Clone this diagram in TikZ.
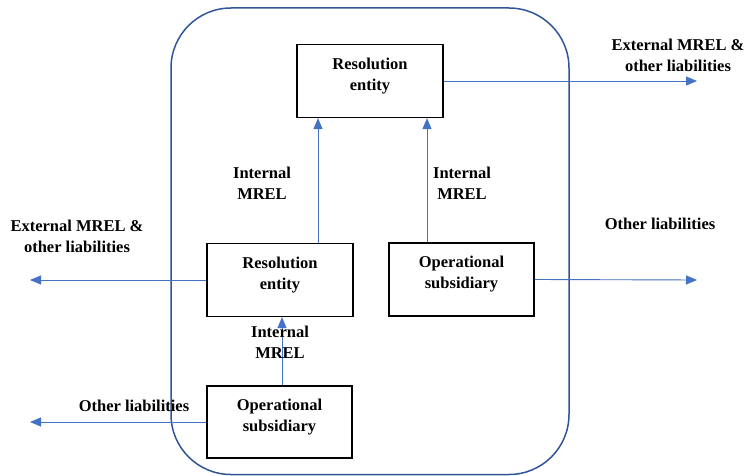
\documentclass[tikz,border=0pt]{standalone}
\usepackage{fontspec}
\setmainfont{Liberation Serif}
\usetikzlibrary{arrows.meta}
\definecolor{frameblue}{RGB}{47,85,151}
\definecolor{arrowblue}{RGB}{68,114,196}

\begin{document}
\begin{tikzpicture}[x=1pt,y=1pt,yscale=-1,xscale=1,
  entity/.style={draw,line width=1.2pt,minimum width=146pt,minimum height=73pt,align=center,inner sep=0pt,
    text depth=13.5pt,font=\bfseries\fontsize{16.5}{21}\selectfont},
  lbl/.style={align=center,inner sep=0.75pt,font=\bfseries\fontsize{16.5}{21}\selectfont},
  flow/.style={draw=arrowblue,line width=0.9pt,-{Triangle[length=11pt,width=9pt]}}]
\useasboundingbox (0,0) rectangle (748,476);

%Shape: Rounded Rectangle (group boundary)
\draw [frameblue,line width=1.5pt,rounded corners=60pt] (171,8) rectangle (569,474.5) ;

%Boxes
\node [entity] (resT) at (370,81) {Resolution\\entity};
\node [entity] (resL) at (280,280) {Resolution\\entity};
\node [entity,minimum width=145pt] (opsR) at (461.5,279.5) {Operational\\subsidiary};
\node [entity,minimum width=145pt,minimum height=72pt] (opsB) at (279.5,422) {Operational\\subsidiary};

%Free ends of the outgoing flows
\coordinate (extR) at (697,81) ;
\coordinate (extL) at (30,280) ;
\coordinate (othR) at (697,280) ;
\coordinate (othL) at (30,422) ;

%Straight Lines
\draw [flow] ([xshift=38pt]resL.north) -- ([xshift=38pt]resL.north |- resT.south) ;
\draw [flow] ([xshift=-34.5pt]opsR.north) -- ([xshift=-34.5pt]opsR.north |- resT.south) ;
\draw [flow] ([xshift=2.5pt]opsB.north) -- ([xshift=2.5pt]opsB.north |- resL.south) ;
\draw [flow] (resT.east) -- (extR) ;
\draw [flow] (resL.west) -- (extL) ;
\draw [flow] (opsR.east) -- (othR) ;
\draw [flow] (opsB.west) -- (othL) ;

% Text Node
\node [lbl] (lExtR) at (678,55) {External MREL \&\\other liabilities};
% Text Node
\node [lbl] (lExtL) at (77,236) {External MREL \&\\other liabilities};
% Text Node
\node [lbl] (lIntL) at (262,183) {Internal\\MREL};
% Text Node
\node [lbl] (lIntR) at (462,183) {Internal\\MREL};
% Text Node
\node [lbl] (lIntB) at (280,342) {Internal\\MREL};
% Text Node
\node [lbl] (lOthR) at (660,224) {Other liabilities};
% Text Node
\node [lbl] (lOthL) at (134,406) {Other liabilities};

\end{tikzpicture}
\end{document}
